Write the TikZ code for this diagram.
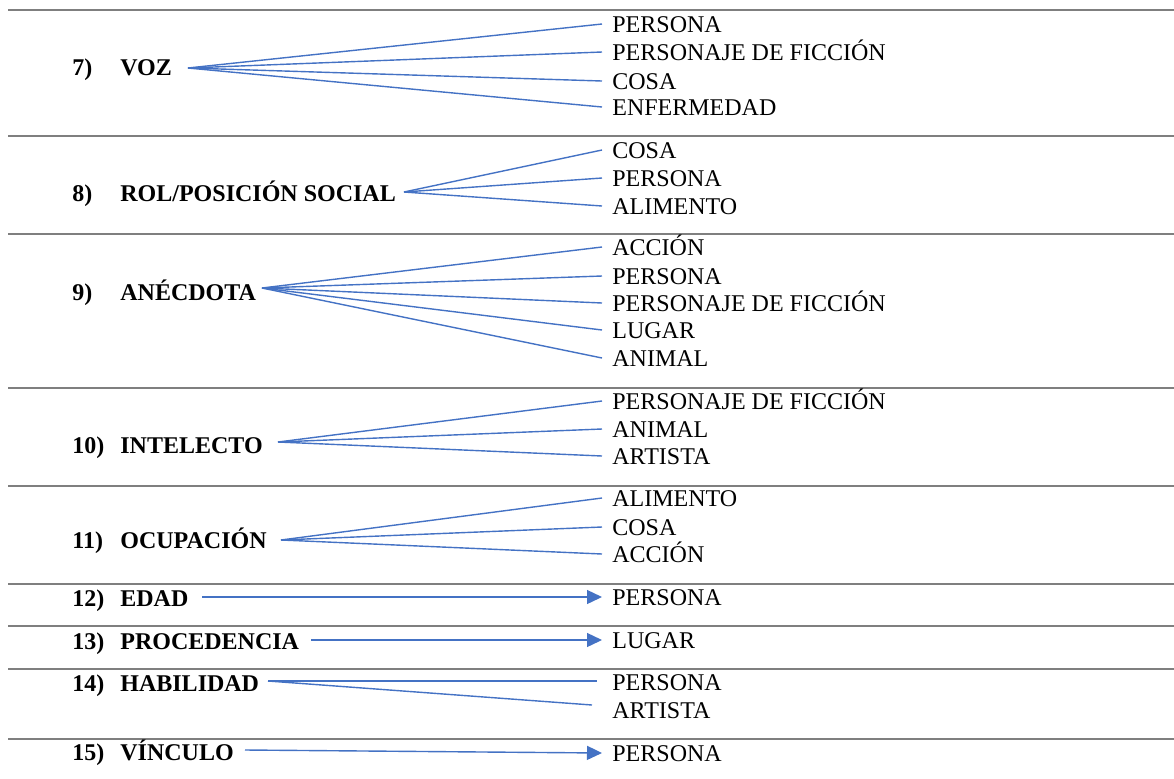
\documentclass[tikz,border=0pt]{standalone}
\usepackage{fontspec}
\setmainfont{Liberation Serif}
\usetikzlibrary{arrows.meta}
\definecolor{linkblue}{HTML}{4472C4}
\definecolor{rulegray}{HTML}{7F7F7F}
\tikzset{
  head/.style={anchor=west, inner sep=0pt, text height=8pt, text depth=0pt,
    font=\fontsize{12}{14}\selectfont\bfseries},
  item/.style={anchor=west, inner xsep=5pt, inner ysep=0pt, text height=8pt,
    text depth=0pt, font=\fontsize{12}{14}\selectfont},
  link/.style={linkblue, line width=0.7pt},
  arrowlink/.style={link, -{Triangle[length=7.5pt,width=7pt]}},
  sep/.style={rulegray, line width=1pt}
}
\begin{document}
\begin{tikzpicture}[x=0.5pt, y=-0.5pt]
    \useasboundingbox (0,0) rectangle (1174,778);

    % Separators
    \foreach \y in {10,136,234,388,486,584,626,669,739}
        \draw[sep] (8,\y) -- (1174,\y);

    % 7) Voz
    \node[head] (n7) at (72,67) {7)};
    \node[head] (voz) at (120,67) {VOZ};
    \coordinate (voz-o) at (188,68);
    \node[item] (voz-a) at (602,24) {PERSONA};
    \node[item] (voz-b) at (602,52) {PERSONAJE DE FICCIÓN};
    \node[item] (voz-c) at (602,81) {COSA};
    \node[item] (voz-d) at (602,107) {ENFERMEDAD};
    \draw[link] (voz-o) -- (voz-a.west);
    \draw[link] (voz-o) -- (voz-b.west);
    \draw[link] (voz-o) -- (voz-c.west);
    \draw[link] (voz-o) -- (voz-d.west);

    % 8) Rol
    \node[head] (n8) at (72,193) {8)};
    \node[head] (rol) at (120,193) {ROL/POSICIÓN SOCIAL};
    \coordinate (rol-o) at (404,192);
    \node[item] (rol-a) at (602,150) {COSA};
    \node[item] (rol-b) at (602,178) {PERSONA};
    \node[item] (rol-c) at (602,206) {ALIMENTO};
    \draw[link] (rol-o) -- (rol-a.west);
    \draw[link] (rol-o) -- (rol-b.west);
    \draw[link] (rol-o) -- (rol-c.west);

    % 9) Anecdota
    \node[head] (n9) at (72,292) {9)};
    \node[head] (anec) at (120,292) {ANÉCDOTA};
    \coordinate (anec-o) at (262,288);
    \node[item] (anec-a) at (602,247) {ACCIÓN};
    \node[item] (anec-b) at (602,276) {PERSONA};
    \node[item] (anec-c) at (602,303) {PERSONAJE DE FICCIÓN};
    \node[item] (anec-d) at (602,330) {LUGAR};
    \node[item] (anec-e) at (602,358) {ANIMAL};
    \draw[link] (anec-o) -- (anec-a.west);
    \draw[link] (anec-o) -- (anec-b.west);
    \draw[link] (anec-o) -- (anec-c.west);
    \draw[link] (anec-o) -- (anec-d.west);
    \draw[link] (anec-o) -- (anec-e.west);

    % 10) Intelecto
    \node[head] (n10) at (72,445) {10)};
    \node[head] (intel) at (120,445) {INTELECTO};
    \coordinate (intel-o) at (278,442);
    \node[item] (intel-a) at (602,401) {PERSONAJE DE FICCIÓN};
    \node[item] (intel-b) at (602,429) {ANIMAL};
    \node[item] (intel-c) at (602,456) {ARTISTA};
    \draw[link] (intel-o) -- (intel-a.west);
    \draw[link] (intel-o) -- (intel-b.west);
    \draw[link] (intel-o) -- (intel-c.west);

    % 11) Ocupacion
    \node[head] (n11) at (72,540) {11)};
    \node[head] (ocup) at (120,540) {OCUPACIÓN};
    \coordinate (ocup-o) at (281,540);
    \node[item] (ocup-a) at (602,498) {ALIMENTO};
    \node[item] (ocup-b) at (602,527) {COSA};
    \node[item] (ocup-c) at (602,554) {ACCIÓN};
    \draw[link] (ocup-o) -- (ocup-a.west);
    \draw[link] (ocup-o) -- (ocup-b.west);
    \draw[link] (ocup-o) -- (ocup-c.west);

    % 12) Edad
    \node[head] (n12) at (72,598) {12)};
    \node[head] (edad) at (120,598) {EDAD};
    \coordinate (edad-o) at (202,597);
    \node[item] (edad-a) at (602,597) {PERSONA};
    \draw[arrowlink] (edad-o) -- (edad-a.west);

    % 13) Procedencia
    \node[head] (n13) at (72,641) {13)};
    \node[head] (proc) at (120,641) {PROCEDENCIA};
    \coordinate (proc-o) at (311,640);
    \node[item] (proc-a) at (602,640) {LUGAR};
    \draw[arrowlink] (proc-o) -- (proc-a.west);

    % 14) Habilidad
    \node[head] (n14) at (72,683) {14)};
    \node[head] (habil) at (120,683) {HABILIDAD};
    \coordinate (habil-o) at (268,681);
    \node[item] (habil-a) at (602,682) {PERSONA};
    \node[item] (habil-b) at (602,710) {ARTISTA};
    \draw[link] (habil-o) -- ([shift={(-5,-1)}]habil-a.west);
    \draw[link] (habil-o) -- ([shift={(-10,-5)}]habil-b.west);

    % 15) Vinculo
    \node[head] (n15) at (72,752) {15)};
    \node[head] (vinc) at (120,752) {VÍNCULO};
    \coordinate (vinc-o) at (245,750);
    \node[item] (vinc-a) at (602,753) {PERSONA};
    \draw[arrowlink] (vinc-o) -- (vinc-a.west);
\end{tikzpicture}
\end{document}
